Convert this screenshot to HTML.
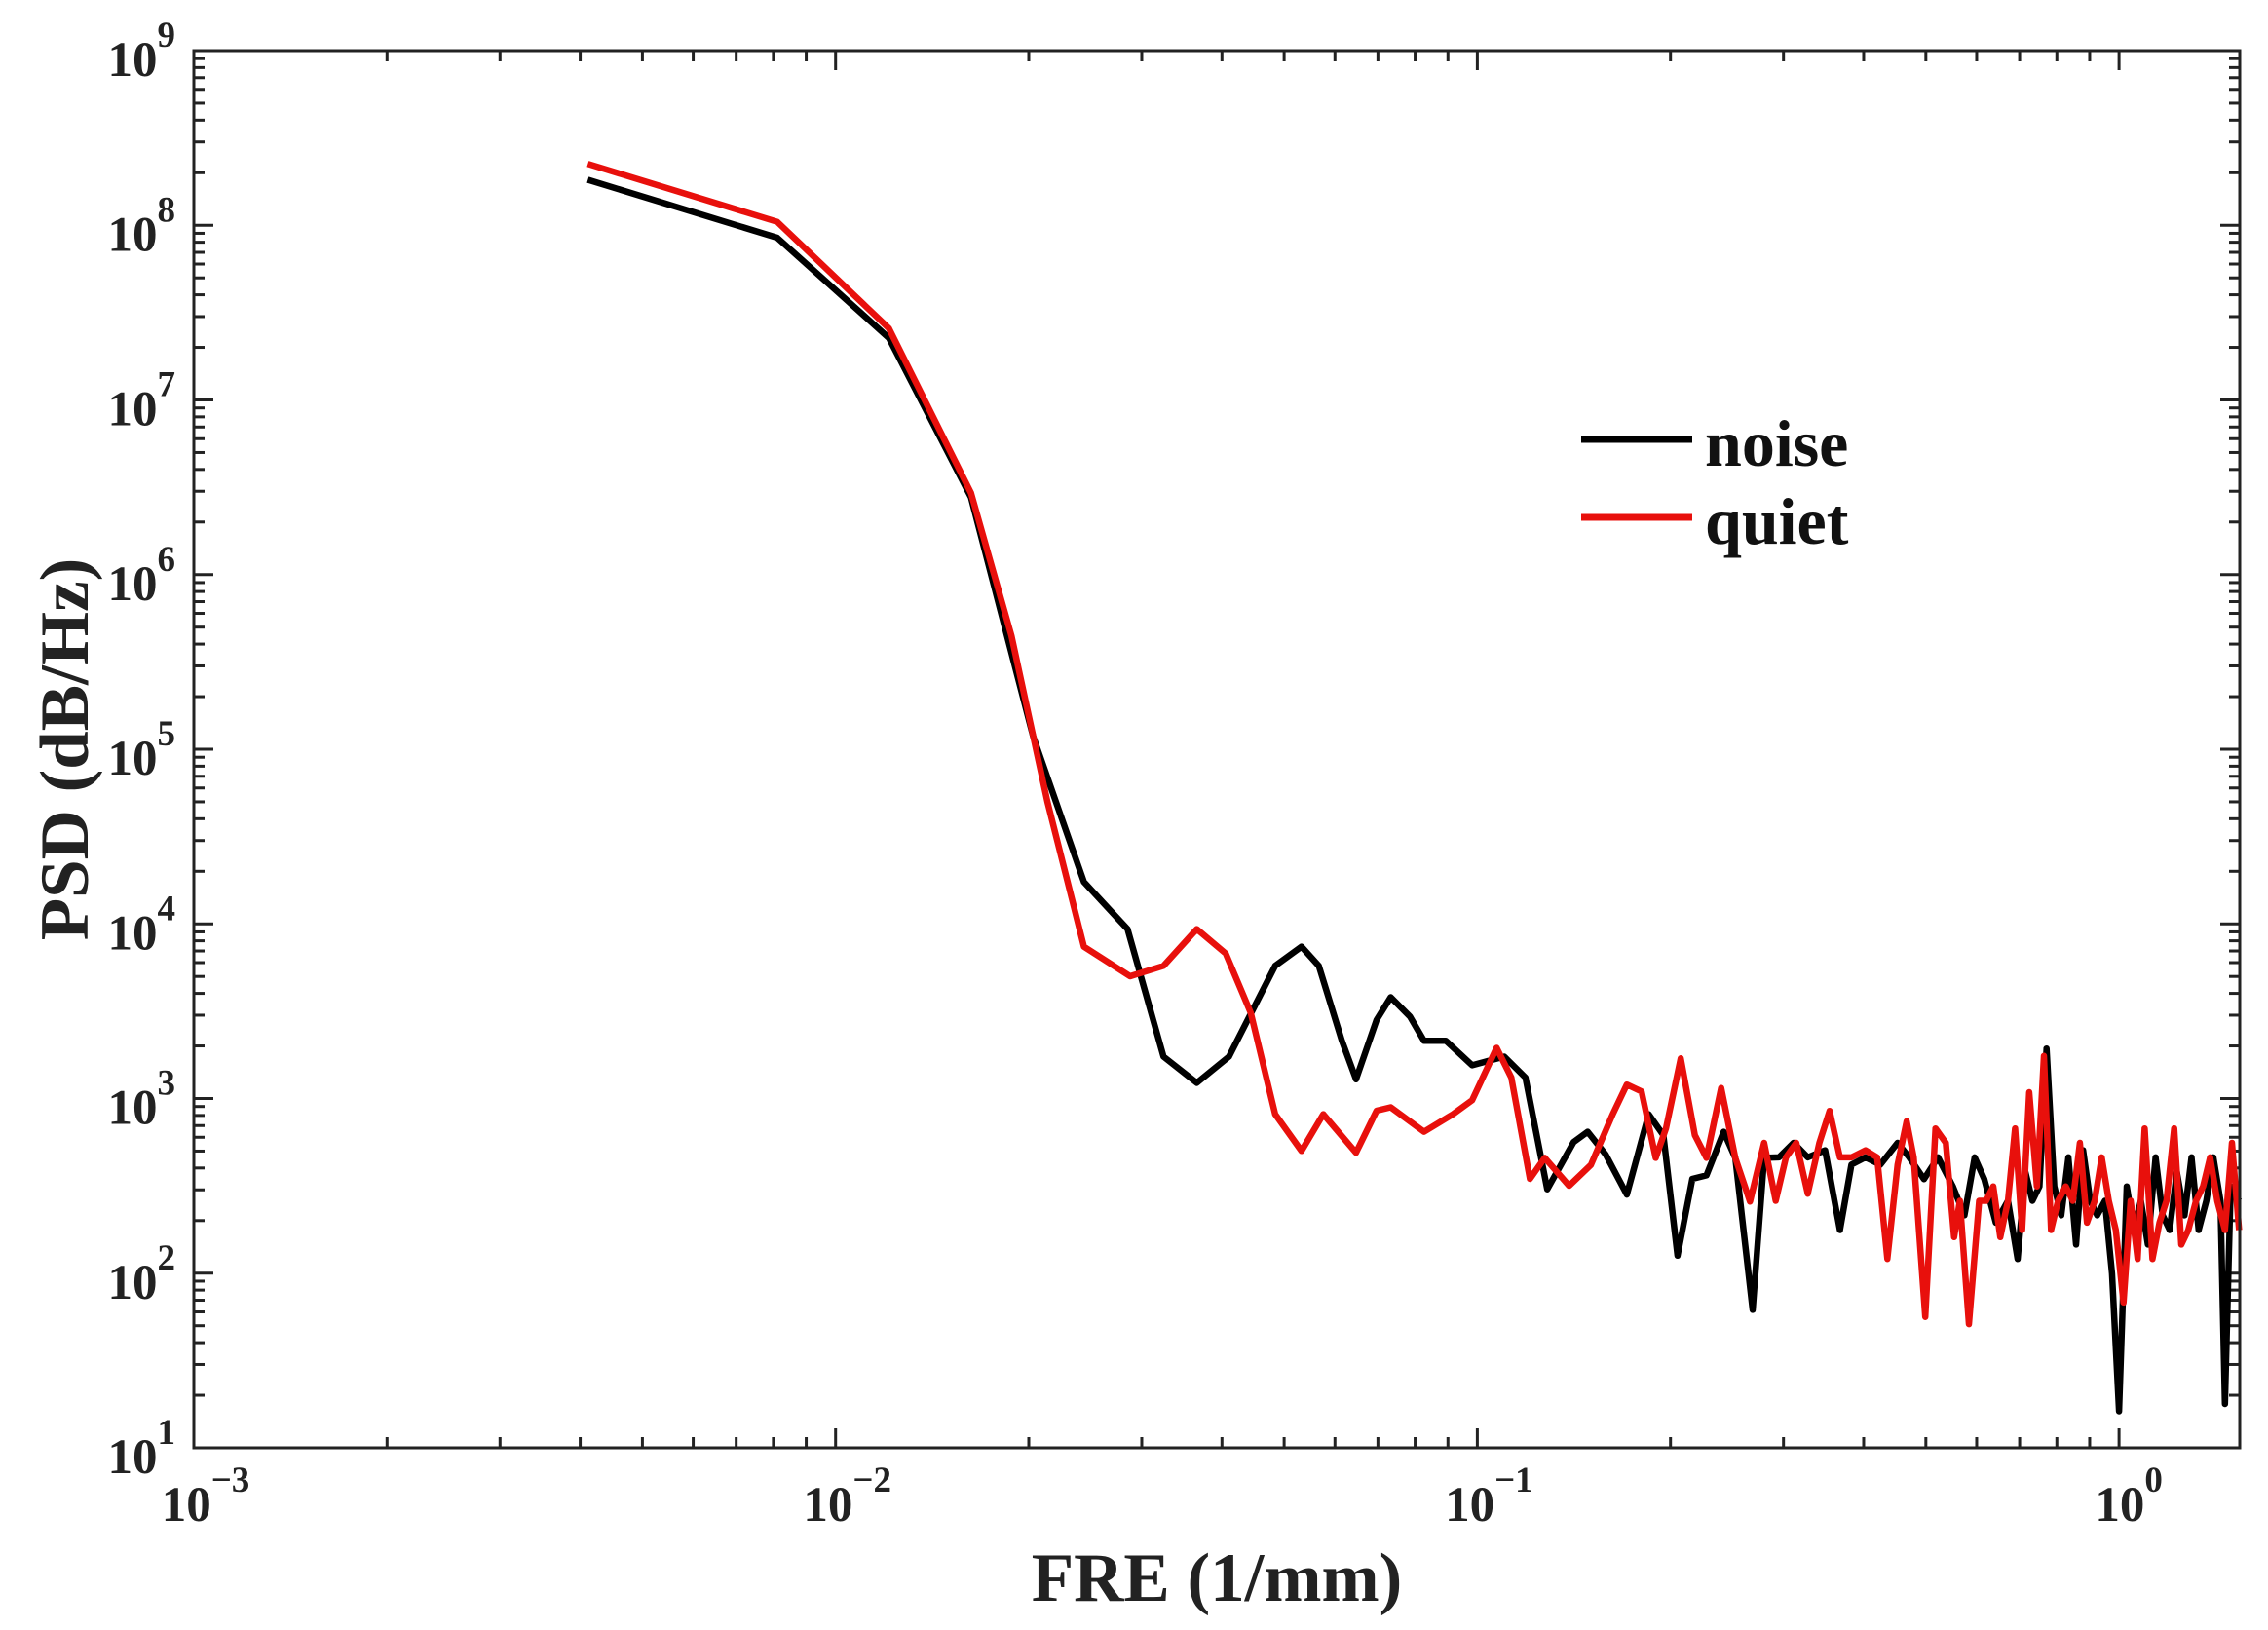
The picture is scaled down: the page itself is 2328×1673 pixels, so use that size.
<!DOCTYPE html>
<html><head><meta charset="utf-8"><style>
html,body{margin:0;padding:0;background:#fff;}
svg{display:block;font-family:"Liberation Serif",serif;font-weight:bold;}
</style></head><body>
<svg id="chart" width="2328" height="1673" viewBox="0 0 2328 1673" xmlns="http://www.w3.org/2000/svg">
<rect x="0" y="0" width="2328" height="1673" fill="#fff"/>
<g id="ticks"></g>
<g id="labels"></g>
<g id="series"></g>
<rect x="199" y="52" width="2100" height="1434" fill="none" stroke="#222" stroke-width="3"/>
<text x="0" y="0" transform="translate(90,769) rotate(-90)" text-anchor="middle" font-size="71" fill="#222">PSD (dB/Hz)</text>
<text x="1249" y="1643" text-anchor="middle" font-size="71" fill="#222">FRE (1/mm)</text>
<g>
<line x1="1623" y1="451" x2="1737" y2="451" stroke="#000" stroke-width="7"/>
<text x="1750" y="478" font-size="68" fill="#111">noise</text>
<line x1="1623" y1="531" x2="1737" y2="531" stroke="#e8100c" stroke-width="7"/>
<text x="1750" y="558" font-size="68" fill="#111">quiet</text>
</g>
</svg>
<script>
// data: log10(frequency), log10(PSD)
const noiseFreqExp=[-2.386,-2.091,-1.917,-1.789,-1.692,-1.613,-1.545,-1.489,-1.437,-1.387,-1.315,-1.274,-1.247,-1.211,-1.189,-1.157,-1.135,-1.105,-1.083,-1.049,-1.008,-0.958,-0.925,-0.891,-0.85,-0.828,-0.80,-0.767,-0.733,-0.71,-0.688,-0.665,-0.643,-0.616,-0.598,-0.571,-0.553,-0.530,-0.507,-0.485,-0.458,-0.435,-0.417,-0.395,-0.372,-0.345,-0.327,-0.304,-0.282,-0.259,-0.241,-0.225,-0.210,-0.192,-0.173,-0.158,-0.146,-0.135,-0.124,-0.113,-0.101,-0.090,-0.079,-0.067,-0.056,-0.045,-0.034,-0.022,-0.011,0.000,0.012,0.023,0.034,0.045,0.057,0.068,0.079,0.090,0.102,0.113,0.124,0.136,0.147,0.158,0.165,0.174,0.187];
const noisePsdExp=[8.261,7.929,7.355,6.442,5.071,4.24,3.97,3.24,3.09,3.24,3.76,3.87,3.76,3.33,3.11,3.45,3.58,3.47,3.33,3.33,3.19,3.24,3.12,2.48,2.75,2.81,2.68,2.45,2.91,2.79,2.10,2.54,2.56,2.81,2.66,1.79,2.66,2.663,2.746,2.663,2.704,2.247,2.621,2.663,2.621,2.746,2.663,2.538,2.663,2.497,2.331,2.663,2.538,2.289,2.414,2.081,2.580,2.414,2.497,3.286,2.497,2.331,2.663,2.164,2.704,2.414,2.331,2.414,1.998,1.209,2.497,2.247,2.414,2.164,2.663,2.331,2.247,2.580,2.331,2.663,2.247,2.414,2.663,2.414,1.251,2.497,2.414];
const quietFreqExp=[-2.386,-2.091,-1.917,-1.789,-1.726,-1.67,-1.613,-1.541,-1.489,-1.437,-1.392,-1.353,-1.315,-1.274,-1.24,-1.189,-1.157,-1.135,-1.083,-1.038,-1.008,-0.97,-0.947,-0.918,-0.895,-0.857,-0.823,-0.789,-0.767,-0.744,-0.722,-0.706,-0.683,-0.661,-0.643,-0.62,-0.598,-0.575,-0.553,-0.535,-0.519,-0.503,-0.485,-0.467,-0.451,-0.435,-0.417,-0.395,-0.377,-0.361,-0.345,-0.331,-0.320,-0.302,-0.286,-0.270,-0.257,-0.248,-0.234,-0.218,-0.207,-0.196,-0.185,-0.173,-0.162,-0.151,-0.140,-0.128,-0.117,-0.106,-0.095,-0.083,-0.072,-0.061,-0.050,-0.038,-0.027,-0.016,-0.005,0.007,0.018,0.029,0.040,0.052,0.063,0.074,0.086,0.097,0.108,0.120,0.131,0.142,0.153,0.165,0.176,0.187];
const quietPsdExp=[8.352,8.02,7.41,6.467,5.65,4.70,3.87,3.70,3.76,3.97,3.83,3.49,2.91,2.70,2.91,2.69,2.93,2.95,2.81,2.91,2.99,3.29,3.12,2.54,2.66,2.50,2.62,2.91,3.08,3.04,2.66,2.83,3.23,2.79,2.66,3.06,2.66,2.41,2.746,2.414,2.663,2.746,2.455,2.746,2.929,2.663,2.663,2.704,2.663,2.081,2.621,2.870,2.663,1.749,2.829,2.746,2.206,2.414,1.708,2.414,2.414,2.497,2.206,2.414,2.829,2.247,3.036,2.497,3.244,2.247,2.414,2.497,2.414,2.746,2.289,2.414,2.663,2.414,2.247,1.832,2.414,2.081,2.829,2.081,2.289,2.414,2.829,2.164,2.247,2.414,2.497,2.663,2.414,2.247,2.746,2.247];
const xTickExp=[-3,-2,-1,0];
const yTickExp=[1,2,3,4,5,6,7,8,9];

const NS="http://www.w3.org/2000/svg";
const L=199,R=2299,T=52,B=1486;
const X0=-3,XD=658.7; // px per decade
function xs(e){return L+(e-X0)*XD;}
function ys(e){return B-(e-1)*(B-T)/8;}
function mk(tag,attrs,parent){const el=document.createElementNS(NS,tag);for(const k in attrs)el.setAttribute(k,attrs[k]);parent.appendChild(el);return el;}
const tg=document.getElementById('ticks'),lg=document.getElementById('labels'),sg=document.getElementById('series');
for(let d=-3;d<=0;d++){
  for(let m=1;m<=9;m++){
    const e=d+Math.log10(m);const x=xs(e);if(x>R)continue;
    const len=m===1?20:11;
    const t1=mk('line',{x1:x,y1:B,x2:x,y2:B-len,stroke:'#222','stroke-width':3},tg);
    
    
    const t2=mk('line',{x1:x,y1:T,x2:x,y2:T+len,stroke:'#222','stroke-width':3},tg);
    
    
  }
}
for(let d=1;d<=9;d++){
  for(let m=1;m<=9;m++){
    if(d===9&&m>1)continue;
    const y=ys(d+Math.log10(m));
    const len=m===1?20:11;
    const t1=mk('line',{x1:L,y1:y,x2:L+len,y2:y,stroke:'#222','stroke-width':3},tg);
    
    
    const t2=mk('line',{x1:R,y1:y,x2:R-len,y2:y,stroke:'#222','stroke-width':3},tg);
    
    
  }
}
xTickExp.forEach(e=>{
  const t=mk('text',{x:xs(e)+(e<0?12:10),y:1561,'text-anchor':'middle','font-size':51,fill:'#222'},lg);
  
  
  t.appendChild(document.createTextNode('10'));
  const s=mk('tspan',{dy:-30,'font-size':37},t);s.textContent=(e<0?'\u2212'+(-e):String(e));
});
yTickExp.forEach(e=>{
  const t=mk('text',{x:180,y:ys(e)+26,'text-anchor':'end','font-size':51,fill:'#222'},lg);
  
  
  t.appendChild(document.createTextNode('10'));
  const s=mk('tspan',{dy:-30,'font-size':37},t);s.textContent=String(e);
});
function draw(fx,py,color,name){
  const pts=fx.map((e,i)=>xs(e).toFixed(1)+','+ys(py[i]).toFixed(1)).join(' ');
  const p=mk('polyline',{points:pts,fill:'none',stroke:color,'stroke-width':6.5,'stroke-linejoin':'round'},sg);
  
  
}
draw(noiseFreqExp,noisePsdExp,'#000','noise-line');
draw(quietFreqExp,quietPsdExp,'#e8100c','quiet-line');
</script>
</body></html>
